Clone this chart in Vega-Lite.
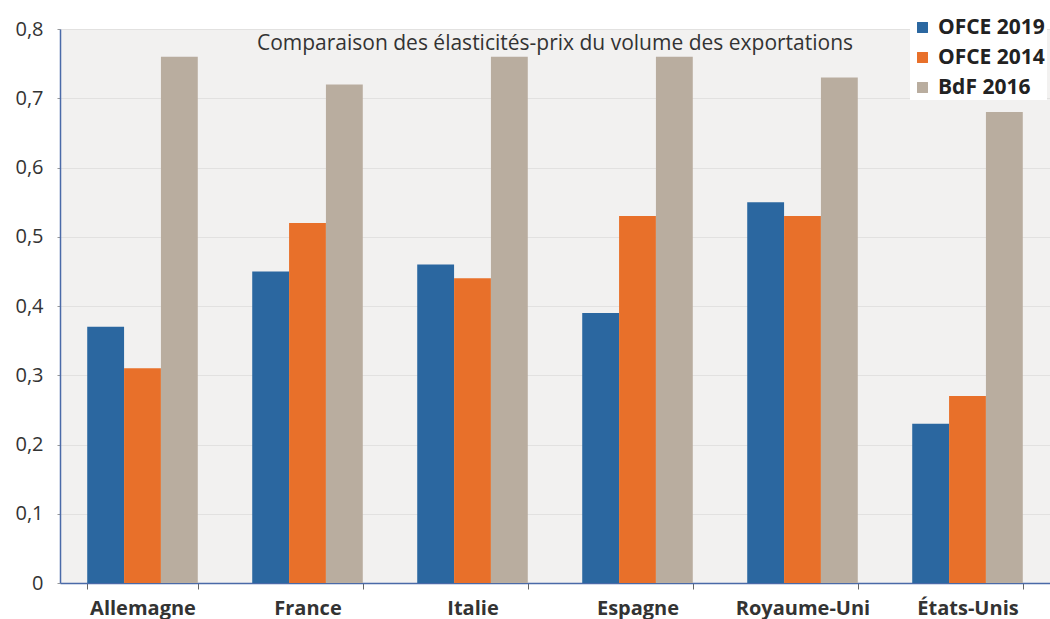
{
  "$schema": "https://vega.github.io/schema/vega-lite/v6.json",
  "autosize": "none",
  "width": 990,
  "height": 554,
  "padding": {"left": 60, "top": 29, "right": 0, "bottom": 36},
  "background": "white",
  "title": {"text": "Comparaison des élasticités-prix du volume des exportations", "orient": "top", "anchor": "middle", "baseline": "top", "offset": -6, "dy": 33, "font": "Open Sans", "fontSize": 21, "fontWeight": "normal", "color": "#333333"},
  "data": {"values": [
    {"pays": "Allemagne", "serie": "OFCE 2019", "valeur": 0.37},
    {"pays": "Allemagne", "serie": "OFCE 2014", "valeur": 0.31},
    {"pays": "Allemagne", "serie": "BdF 2016", "valeur": 0.76},
    {"pays": "France", "serie": "OFCE 2019", "valeur": 0.45},
    {"pays": "France", "serie": "OFCE 2014", "valeur": 0.52},
    {"pays": "France", "serie": "BdF 2016", "valeur": 0.72},
    {"pays": "Italie", "serie": "OFCE 2019", "valeur": 0.46},
    {"pays": "Italie", "serie": "OFCE 2014", "valeur": 0.44},
    {"pays": "Italie", "serie": "BdF 2016", "valeur": 0.76},
    {"pays": "Espagne", "serie": "OFCE 2019", "valeur": 0.39},
    {"pays": "Espagne", "serie": "OFCE 2014", "valeur": 0.53},
    {"pays": "Espagne", "serie": "BdF 2016", "valeur": 0.76},
    {"pays": "Royaume-Uni", "serie": "OFCE 2019", "valeur": 0.55},
    {"pays": "Royaume-Uni", "serie": "OFCE 2014", "valeur": 0.53},
    {"pays": "Royaume-Uni", "serie": "BdF 2016", "valeur": 0.73},
    {"pays": "États-Unis", "serie": "OFCE 2019", "valeur": 0.23},
    {"pays": "États-Unis", "serie": "OFCE 2014", "valeur": 0.27},
    {"pays": "États-Unis", "serie": "BdF 2016", "valeur": 0.68}
  ]},
  "mark": {"type": "bar"},
  "encoding": {
    "x": {
      "field": "pays", "type": "nominal",
      "sort": ["Allemagne", "France", "Italie", "Espagne", "Royaume-Uni", "États-Unis"],
      "scale": {"paddingInner": 0.33, "paddingOuter": 0.165},
      "axis": {"title": null, "labelAngle": 0, "labelFont": "Open Sans", "labelFontSize": 20, "labelFontWeight": "bold", "labelColor": "#333333", "labelPadding": 9, "tickBand": "extent", "tickColor": "#666666", "tickSize": 6, "domainColor": "#4a6aa8", "domainWidth": 1.5}
    },
    "xOffset": {"field": "serie", "type": "nominal", "sort": ["OFCE 2019", "OFCE 2014", "BdF 2016"], "scale": {"paddingInner": 0, "paddingOuter": 0}},
    "y": {
      "field": "valeur", "type": "quantitative",
      "scale": {"domain": [0, 0.8], "nice": false},
      "axis": {"title": null, "values": [0, 0.1, 0.2, 0.3, 0.4, 0.5, 0.6, 0.7, 0.8], "labelExpr": "replace(format(datum.value, '~g'), '.', ',')", "labelFont": "Open Sans", "labelFontSize": 20, "labelColor": "#333333", "labelPadding": 14, "tickSize": 3, "tickColor": "#999999", "domainColor": "#4a6aa8", "domainWidth": 1.5, "grid": true, "gridColor": "#e2e1e0", "gridWidth": 1}
    },
    "color": {
      "field": "serie", "type": "nominal",
      "scale": {"domain": ["OFCE 2019", "OFCE 2014", "BdF 2016"], "range": ["#2b67a0", "#e8702a", "#b9ad9f"]},
      "legend": {"title": null, "orient": "none", "legendX": 850, "legendY": -14, "symbolType": "square", "symbolSize": 120, "symbolStrokeWidth": 0, "symbolOpacity": 1, "labelFont": "Open Sans", "labelFontSize": 21, "labelFontWeight": "bold", "labelColor": "#222222", "rowPadding": 8, "labelOffset": 5, "fillColor": "white", "padding": 2}
    }
  },
  "config": {"view": {"fill": "#f2f1f0", "stroke": null}}
}
